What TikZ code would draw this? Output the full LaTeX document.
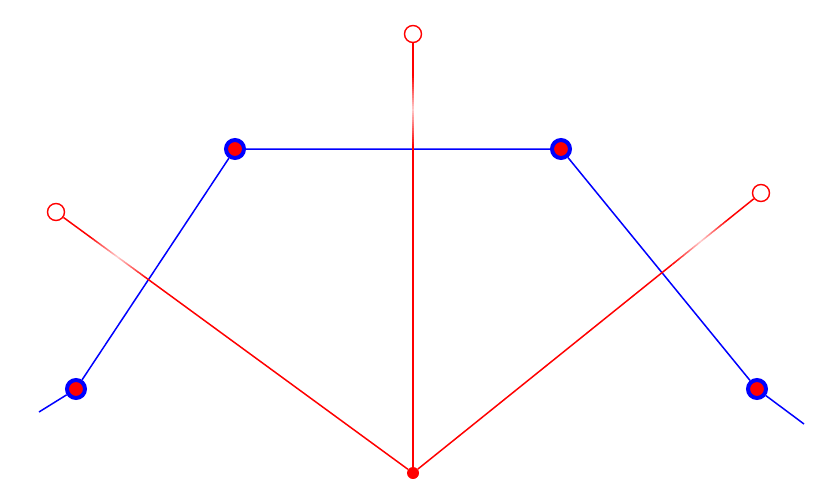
\documentclass[tikz,border=0pt]{standalone}
\usetikzlibrary{calc}
\tikzset{
  bluenode/.style={circle, fill=red, draw=blue, line width=4pt, minimum size=18pt, inner sep=0pt},
  opennode/.style={circle, fill=white, draw=red, line width=1.4pt, minimum size=17pt, inner sep=0pt},
  basenode/.style={circle, fill=red, minimum size=12pt, inner sep=0pt},
  blueline/.style={draw=blue, line width=1.5pt},
  redline/.style={line width=1.5pt},
}
\begin{document}
\begin{tikzpicture}[x=1pt,y=-1pt]
\useasboundingbox (0,0) rectangle (830,479);
% blue chain
\coordinate (L) at (39,412);
\coordinate (R) at (804,424);
\node[bluenode] (n1) at (76,389) {};
\node[bluenode] (n2) at (235,149) {};
\node[bluenode] (n3) at (561,149) {};
\node[bluenode] (n4) at (757,389) {};
\draw[blueline] (L) -- (n1) -- (n2) -- (n3) -- (n4) -- (R);
% red fan
\node[basenode] (O) at (413,473) {};
\node[opennode] (A) at (56,212) {};
\node[opennode] (B) at (413,34) {};
\node[opennode] (C) at (761,193) {};
\foreach \tip in {A,B,C}{
  \draw[redline, red] (O) -- ($(O)!0.745!(\tip)$);
  \foreach \i in {0,...,31}{
    \pgfmathsetmacro{\ta}{0.745+\i*0.005}
    \pgfmathsetmacro{\tb}{\ta+0.0055}
    \pgfmathsetmacro{\tm}{\ta+0.0025}
    \pgfmathsetmacro{\pc}{\tm<0.828 ? 100-80*(\tm-0.745)/0.083 : 20+80*(\tm-0.828)/0.077}
    \pgfmathsetmacro{\pc}{min(100,max(18,\pc))}
    \draw[redline, red!\pc!white] ($(O)!\ta!(\tip)$) -- ($(O)!\tb!(\tip)$);
  }
  \draw[redline, red] ($(O)!0.905!(\tip)$) -- (\tip);
}
\end{tikzpicture}
\end{document}
